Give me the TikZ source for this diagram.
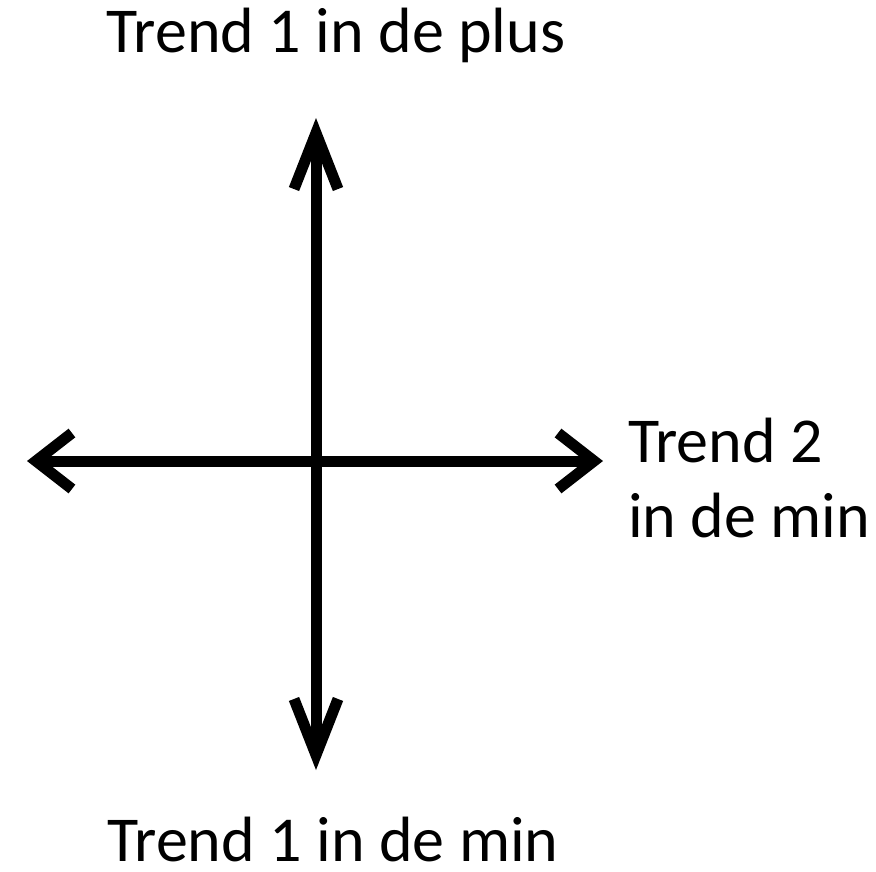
\documentclass[tikz,border=0pt]{standalone}
\usepackage{fontspec}
\setmainfont{Carlito}
\usetikzlibrary{arrows.meta}
\begin{document}
\begin{tikzpicture}[x=1pt,y=-1pt,
  lbl/.style={font=\fontsize{64}{75}\selectfont, inner sep=0pt},
  vaxis/.style={line width=11pt, {Straight Barb[length=56pt,width=44pt]}-{Straight Barb[length=56pt,width=44pt]}},
  haxis/.style={line width=11pt, {Straight Barb[length=36pt,width=56pt]}-{Straight Barb[length=36pt,width=56pt]}}]
\useasboundingbox (0,0) rectangle (876,871);
\coordinate (top) at (316,118);
\coordinate (bot) at (316,770);
\coordinate (left) at (27,461);
\coordinate (right) at (603,461);
\draw[vaxis] (bot) -- (top);
\draw[haxis] (left) -- (right);
\node[lbl, anchor=base] (t1p) at (336,52) {Trend 1 in de plus};
\node[lbl, anchor=base, text depth=0pt] (t1m) at (333,861) {Trend 1 in de min};
\node[lbl, anchor=base west] (t2a) at (628,462) {Trend 2};
\node[lbl, anchor=base west] (t2b) at (628,537) {in de min};
\end{tikzpicture}
\end{document}
